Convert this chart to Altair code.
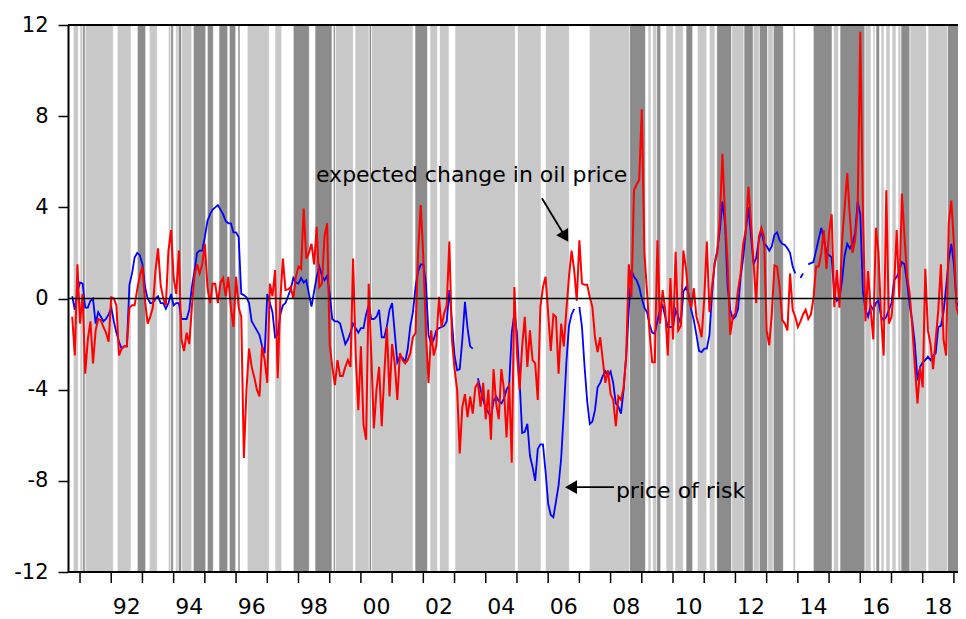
import altair as alt
import pandas as pd

FONT = "DejaVu Sans"
START_YEAR = 1990.75          # first observation: Oct 1990, monthly
X_MIN, X_MAX = 1990.615, 2019.131
W, H = 890, 547

# price of risk (blue), monthly from Oct 1990
blue = [
    0.1, -0.5, 0.3, 0.7, 0.65, -0.4, -0.4, -0.1, 0.0, -1.1,
    -0.6, -0.8, -1.0, -0.9, -0.7, -0.4, -1.0, -1.5, -1.9, -2.2,
    -2.1, -2.1, 0.6, 1.1, 1.8, 2.0, 1.9, 1.5, 0.5, 0.0,
    -0.2, -0.2, 0.0, 0.1, -0.2, -0.2, -0.45, -0.2, 0.2, -0.3,
    -0.2, -0.2, -0.9, -0.9, -0.9, -0.5, 0.5, 1.2, 2.0, 2.1,
    2.1, 2.7, 3.4, 3.7, 3.9, 4.0, 4.1, 3.9, 3.7, 3.4,
    3.3, 3.3, 2.9, 2.9, 2.7, 0.2, 0.15, 0.05, -0.2, -1.0,
    -1.2, -1.4, -1.6, -2.1, -2.4, 0.2, -0.2, -0.6, -1.7, -1.6,
    -0.7, -0.3, -0.2, 0.1, 0.4, 0.9, 0.7, 0.65, 0.9, 0.7,
    0.8, 0.2, -0.35, 0.3, 0.95, 1.4, 1.0, 0.8, 1.0,
    0.2, -0.9, -1.0, -1.0, -1.1, -1.55, -2.0, -1.8, -1.5, -1.1,
    -1.3, -1.5, -1.3, -1.3, -0.7, -0.3, -0.9, -0.9, -0.8, -0.5,
    -1.7, -1.7, -1.2, -0.5, -0.2, -1.5, -2.8, -2.55, -2.6, -2.8,
    -2.2, -1.2, -0.6, 0.5, 1.2, 1.5, 1.5, 0.65, -1.6, -2.0,
    -1.8, -1.4, -1.3, -1.25, -1.2, -1.0, 0.37, -1.0, -2.5, -3.15,
    -3.1, -1.8, -0.15, -1.3, -2.1, -2.2, None, -3.5, -4.0, -4.45,
    -4.8, -5.0, -5.2, -4.5, -4.3, -4.5, -4.6, -4.4, -4.0, -3.8,
    -1.5, -0.65, -1.5, -3.6, -5.9, -5.85, -5.5, -6.9, -7.4, -8.0,
    -6.6, -6.4, -6.4, -7.6, -9.0, -9.5, -9.6, -8.9, -8.2, -7.0,
    -5.0, -2.8, -1.2, -0.7, -0.45, None, -0.37, -1.25, -3.0, -4.5,
    -5.5, -5.4, -4.9, -3.9, -3.7, -3.4, -3.2, -3.4, -3.2, -3.7,
    -4.6, -4.75, -5.05, -4.0, -2.5, -0.5, 1.25, 0.95, 0.8, 0.5,
    0.0, -0.4, -0.6, -1.15, -1.5, -1.55, -1.0, -0.5, -0.3, -0.8,
    -1.25, -1.25, -1.25, -0.5, -0.8, -1.1, 0.3, 0.5, 0.2, -0.5,
    -0.95, -1.6, -2.3, -2.35, -2.2, -2.2, -1.6, 0.2, 1.55, 2.1,
    3.0, 4.25, 3.3, 0.5, -0.5, -0.9, -0.8, -0.45, 0.95, 1.8,
    3.0, 4.0, 2.7, 1.5, 1.8, 2.55, 3.0, 2.4, 2.3, 2.1,
    2.3, 2.8, 2.9, 2.55, 2.4, 2.35, 2.2, 2.0, 1.4, 1.1,
    None, 0.9, 1.1, None, 1.5, 1.55, 1.6, 2.1, 2.6, 3.1,
    2.6, 2.0, 1.9, 1.8, 0.2, -0.1, 0.0, 0.8, 1.9, 2.4,
    2.2, 2.4, 2.85, 4.25, 3.7, 0.3, -0.5, -0.8, -0.3, -0.5,
    -0.2, -0.1, -0.8, -0.95, -0.8, -0.5, -0.2, 0.8, 0.95, 1.2,
    1.6, 1.5, 0.7, -0.3, -1.0, -2.0, -3.6, -3.0, -2.8, -2.7,
    -2.55, -2.7, -2.5, -2.4, -1.25, -1.2, -0.6, 0.5, 1.7, 2.4,
    1.5, -0.2, -0.4, -0.5, 1.8,
]

# expected change in oil price (red), monthly from Oct 1990
red = [
    -0.8, -2.5, 1.5, -1.1, 0.2, -3.3, -1.8, -1.0, -2.85, -1.4,
    -0.9, -0.95, -1.25, -1.5, -1.9, 0.05, 0.0, -0.3, -2.5, -2.2,
    -2.1, -2.1, -0.4, -0.3, -0.3, 0.4, 1.0, 1.4, -0.1, -1.1,
    -0.8, -0.4, 1.2, 2.2, 0.6, 0.0, -0.3, 2.1, 3.0, 0.9,
    0.2, 2.1, -1.8, -2.3, -1.5, -2.0, -0.4, 1.0, 1.5, 1.1,
    1.5, 2.4, 0.5, -0.2, 0.65, 0.65, -0.2, 0.7, 0.9, 0.1,
    0.95, -0.4, -1.25, 0.95, -0.4, -0.8, -7.0, -4.0, -2.2, -3.0,
    -3.45, -4.0, -4.3, -2.1, -2.7, -3.7, 0.65, 0.1, 1.25, -3.5,
    -0.1, 1.75, 0.37, 0.4, 0.5, 0.0, 0.95, 1.4, 1.3, 3.95,
    1.75, 2.0, 2.4, 1.5, 3.15, 0.5, 0.65, 2.7, 3.3, -2.0,
    -3.0, -3.8, -2.7, -3.4, -3.4, -3.0, -2.7, -3.0, 1.75, -2.5,
    -4.9, -2.1, -5.55, -6.2, 0.65, -2.5, -5.7, -4.0, -3.0, -5.6,
    -3.3, -1.25, -4.3, -2.0, -2.85, -4.45, -2.4, -2.7, -2.85, -2.7,
    -2.4, -1.7, -1.5, 2.05, 4.1, 1.8, -1.5, -3.7, -1.4, -2.5,
    -2.05, 0.07, -1.25, -0.65, -0.3, 2.5, -1.8, -3.1, -4.0, -6.8,
    -4.75, -4.2, -5.2, -4.3, -5.05, -3.9, -3.7, -4.75, -3.7, -5.3,
    -4.0, -6.2, -3.1, -4.6, -5.3, -3.1, -4.0, -6.1, -3.7, -7.2,
    0.5, -2.4, -4.0, -2.1, -0.8, -3.0, -1.4, -2.7, -2.85, -4.45,
    -0.37, 0.5, 0.95, -0.65, -2.3, -0.7, -0.8, -3.3, -1.1, -2.1,
    -0.5, 0.95, 2.1, 1.25, -0.1, 2.55, 0.65, 0.6, 0.6, 0.07,
    -0.37, -1.7, -2.35, -1.7, -2.7, -3.7, -3.15, -4.2, -4.45, -5.6,
    -4.3, -4.45, -3.9, -2.55, 1.5, 0.07, 4.75, 5.0, 5.2, 8.3,
    2.0, 0.3, -1.5, -2.8, -2.8, 2.55, -1.1, 0.37, -0.5, -2.5,
    0.9, -1.8, 2.05, -1.4, -1.2, 2.1, 1.3, 0.0, -0.4, 0.45,
    -0.8, -1.2, -1.7, 0.0, 2.5, -0.6, 0.5, 1.5, 2.0, 3.5,
    6.35, 3.6, 1.5, -1.6, -0.8, -0.65, 0.37, 1.1, 2.4, 3.0,
    4.9, 3.3, 1.5, -0.2, 2.7, 3.1, 2.7, -1.4, -2.05, -0.65,
    1.45, 1.4, 0.5, -0.95, -1.1, -1.4, 1.1, -0.5, -0.8, -1.25,
    -1.0, -0.7, -0.5, -0.9, -0.7, 0.0, 1.4, 1.4, 2.0, 3.0,
    1.3, 2.9, 3.7, -0.37, 1.25, -0.4, 2.55, 4.0, 5.5, 3.6,
    2.0, 2.55, 3.9, 11.7, 3.9, -1.0, 1.2, -0.5, -1.8, 3.1,
    2.0, -0.8, -2.5, 4.75, -1.1, -0.8, 0.5, 3.0, 0.0, 4.6,
    2.7, 1.0, 0.2, -1.25, -3.0, -4.6, -3.0, -3.9, 1.3, -1.4,
    -2.0, -3.1, -1.8, -0.5, 1.5, -1.8, -2.5, 3.3, 4.3, 2.4,
    -0.4, -0.8, -2.3, -1.2,
]

# shaded regimes (decimal years): L = light grey, D = dark grey
band_start = [1990.785, 1991.000, 1991.087, 1991.170, 1992.195, 1992.836, 1993.220,
              1993.829, 1993.906, 1994.066, 1994.150, 1994.259, 1994.630, 1995.079,
              1995.454, 1995.784, 1996.062, 1996.360, 1997.248, 1997.834, 1998.530,
              1999.116, 1999.186, 1999.811, 2000.269, 2000.340, 2001.734, 2002.214,
              2002.519, 2003.015, 2005.018, 2005.915, 2007.319, 2008.607, 2009.199,
              2009.350, 2009.478, 2009.776, 2010.064, 2010.417, 2010.779, 2011.164,
              2011.401, 2011.881, 2012.275, 2012.573, 2012.766, 2013.035, 2013.214,
              2013.845, 2014.496, 2015.143, 2015.351, 2016.152, 2016.409, 2016.505,
              2016.665, 2016.825, 2017.017, 2017.209, 2017.305, 2017.594, 2018.170,
              2018.795, 2019.228]
band_end = [1990.946, 1991.087, 1991.170, 1992.067, 1992.634, 1993.105, 1993.477,
            1993.906, 1993.989, 1994.150, 1994.259, 1994.579, 1995.028, 1995.271,
            1995.732, 1995.989, 1996.126, 1997.065, 1997.463, 1998.347, 1999.074,
            1999.180, 1999.757, 2000.269, 2000.340, 2001.670, 2002.134, 2002.455,
            2002.823, 2004.947, 2005.771, 2006.678, 2008.607, 2009.119, 2009.295,
            2009.478, 2009.606, 2010.010, 2010.330, 2010.631, 2011.080, 2011.346,
            2011.881, 2012.275, 2012.573, 2012.766, 2013.035, 2013.214, 2013.535,
            2013.925, 2015.095, 2015.303, 2016.152, 2016.344, 2016.473, 2016.617,
            2016.761, 2016.953, 2017.145, 2017.305, 2017.594, 2018.122, 2018.795,
            2019.228, 2019.390]
band_shade = ["L", "L", "D", "L", "L", "D", "L",
              "L", "D", "L", "D", "L", "D", "D",
              "D", "D", "D", "L", "L", "D", "D",
              "D", "L", "L", "D", "L", "D", "L",
              "L", "L", "L", "L", "L", "D", "L",
              "L", "D", "L", "L", "D", "L", "L",
              "D", "L", "D", "L", "D", "L", "D",
              "L", "D", "L", "D", "L", "L", "D",
              "L", "L", "L", "L", "D", "L", "L",
              "D", "L"]

y_ticks = [-12, -8, -4, 0, 4, 8, 12]
x_tick_years = list(range(1991, 2020))
x_label_pos = [y + 0.5 for y in range(1992, 2019, 2)]
x_label_text = ["92", "94", "96", "98", "00", "02", "04", "06", "08", "10",
                "12", "14", "16", "18"]

ann_text = ["expected change in oil price", "price of risk"]
ann_x = [1998.56, 2008.17]
ann_y = [5.10, -8.76]

arrow_x = [2005.80, 2008.11]
arrow_y = [4.40, -8.28]
arrow_x2 = [2006.546, 2006.732]
arrow_y2 = [2.71, -8.28]
arrow_angle = [149, 270]


def monthly(vals, name):
    return pd.DataFrame({
        "t": [START_YEAR + i / 12 for i in range(len(vals))],
        "v": vals,
        "series": name,
    })


blue_df = monthly(blue, "price of risk")
red_df = monthly(red, "expected change in oil price")
bands_df = pd.DataFrame({"start": band_start, "end": band_end, "shade": band_shade})
ann_df = pd.DataFrame({"x": ann_x, "y": ann_y, "label": ann_text})
arrow_df = pd.DataFrame({"x": arrow_x, "y": arrow_y, "x2": arrow_x2, "y2": arrow_y2,
                         "angle": arrow_angle})
ticks_df = pd.DataFrame({"year": x_tick_years})
xlab_df = pd.DataFrame({"pos": x_label_pos, "label": x_label_text})

xscale = alt.Scale(domain=[X_MIN, X_MAX], nice=False, zero=False)
yscale = alt.Scale(domain=[-12, 12], nice=False, zero=False)

y_axis = alt.Axis(
    values=y_ticks, title=None, grid=False,
    tickSize=10, tickWidth=1.5, tickColor="black",
    domainColor="black", domainWidth=2, zindex=1,
    labelExpr="'' + datum.value",
    labelPadding=10, labelFontSize=21, labelFont=FONT, labelColor="black",
    labelOverlap=False, labelFlush=False, labelBound=False,
)

bands = alt.Chart(bands_df).mark_rect(stroke="white", strokeWidth=0.6, clip=True).encode(
    x=alt.X("start:Q", scale=xscale, axis=None),
    x2="end:Q",
    y=alt.datum(12, scale=yscale, axis=y_axis),
    y2=alt.datum(-12),
    color=alt.Color("shade:N", scale=alt.Scale(domain=["L", "D"], range=["#c8c8c8", "#8c8c8c"]),
                    legend=None),
)

hlines = alt.Chart(pd.DataFrame({"v": [0, 12, -12], "w": [1.5, 2, 2]})).mark_rule(
    color="black"
).encode(
    y=alt.Y("v:Q", scale=yscale),
    strokeWidth=alt.StrokeWidth("w:Q", scale=None),
)

xticks = alt.Chart(ticks_df).mark_rule(color="black", strokeWidth=1.5).encode(
    x=alt.X("year:Q", scale=xscale),
    y=alt.value(H),
    y2=alt.value(H + 11),
)
xlabels = alt.Chart(xlab_df).mark_text(
    align="center", baseline="alphabetic", fontSize=22, font=FONT, color="black"
).encode(x=alt.X("pos:Q", scale=xscale), y=alt.value(H + 42), text="label:N")

blue_line = alt.Chart(blue_df).mark_line(color="#0000ff", strokeWidth=1.8, clip=True).encode(
    x=alt.X("t:Q", scale=xscale), y=alt.Y("v:Q", scale=yscale)
)
red_line = alt.Chart(red_df).mark_line(color="#ff0000", strokeWidth=2, clip=True).encode(
    x=alt.X("t:Q", scale=xscale), y=alt.Y("v:Q", scale=yscale)
)

texts = alt.Chart(ann_df).mark_text(
    align="left", baseline="alphabetic", fontSize=22, font=FONT, color="black"
).encode(x=alt.X("x:Q", scale=xscale), y=alt.Y("y:Q", scale=yscale), text="label:N")

shafts = alt.Chart(arrow_df).mark_rule(color="black", strokeWidth=1.8).encode(
    x=alt.X("x:Q", scale=xscale), y=alt.Y("y:Q", scale=yscale), x2="x2:Q", y2="y2:Q"
)
heads = alt.Chart(arrow_df).mark_point(
    shape="triangle-up", filled=True, color="black", size=190, opacity=1
).encode(
    x=alt.X("x2:Q", scale=xscale), y=alt.Y("y2:Q", scale=yscale),
    angle=alt.Angle("angle:Q", scale=None),
)

chart = alt.layer(
    bands, blue_line, red_line, hlines, xticks, xlabels, shafts, heads, texts
).properties(
    width=W, height=H,
    autosize=alt.AutoSizeParams(type="none"),
    padding={"left": 60, "top": 17, "right": 0, "bottom": 47},
).configure_view(strokeWidth=0)

chart.save("out.html", embed_options={"renderer": "svg", "actions": False})
